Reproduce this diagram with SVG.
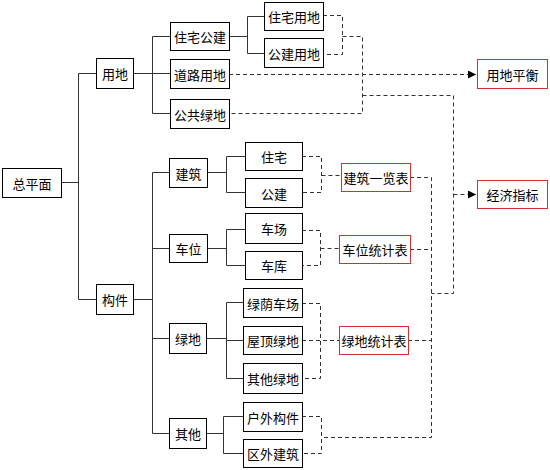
<svg xmlns="http://www.w3.org/2000/svg" width="550" height="470" viewBox="0 0 550 470">
<style>
.n rect{fill:#fff;stroke:#000;stroke-width:1}
.r rect{fill:#fff;stroke:#d03030;stroke-width:1}
text{font-family:"Noto Sans CJK SC","Liberation Sans",sans-serif;font-size:13px;fill:#000;text-anchor:middle;dominant-baseline:central}
.s{fill:none;stroke:#333;stroke-width:1}
.d{fill:none;stroke:#333;stroke-width:1;stroke-dasharray:4,3}
</style>
<defs>
<marker id="a" viewBox="0 0 10 10" refX="10" refY="5" markerWidth="8" markerHeight="8" markerUnits="userSpaceOnUse" orient="auto"><path d="M0,0L10,5L0,10z" fill="#000"/></marker>
</defs>
<g id="connectors">
<path class="s" d="M61.5,182.5H78.5M78.5,73.5V299.5M78.5,73.5H96M78.5,299.5H96"/>
<path class="s" d="M133,73.5H152.5M152.5,36.5V113.5M152.5,36.5H170M152.5,73.5H170M152.5,113.5H170"/>
<path class="s" d="M229,36.5H247.5M247.5,16.5V53.5M247.5,16.5H264M247.5,53.5H264"/>
<path class="s" d="M133,299.5H152.5M152.5,172.5V433.5M152.5,172.5H169M152.5,248.5H169M152.5,338.5H169M152.5,433.5H169"/>
<path class="s" d="M207,172.5H226.5M226.5,156.5V192.5M226.5,156.5H245M226.5,192.5H245"/>
<path class="s" d="M207,248.5H226.5M226.5,229.5V265.5M226.5,229.5H245M226.5,265.5H245"/>
<path class="s" d="M206,338.5H226.5M226.5,302.5V378.5M226.5,302.5H243M226.5,340.5H243M226.5,378.5H243"/>
<path class="s" d="M206,433.5H223.5M223.5,416.5V453.5M223.5,416.5H243M223.5,453.5H243"/>
<path class="d" d="M323,15.5H342.5V54.5H323M342.5,36.5H362.5V113.5H229M362.5,95.5H453.5V293.5H431.5"/>
<path class="d" d="M229,74.5H476" marker-end="url(#a)"/>
<path class="d" d="M453.5,194.5H476" marker-end="url(#a)"/>
<path class="d" d="M302,156.5H321.5V192.5H302M321.5,175.5H341M410,177.5H431.5V437.5H321.5"/>
<path class="d" d="M302,230.5H320.5V265.5H302M320.5,248.5H339M410,249.5H431.5"/>
<path class="d" d="M302,303.5H320.5V378.5H302M302,340.5H339M408,340.5H431.5"/>
<path class="d" d="M302,416.5H321.5V453.5H302"/>
</g>
<g id="n-zongpingmian" class="n"><rect x="2.5" y="168.5" width="59" height="29"/><text x="32" y="183">总平面</text></g>
<g id="n-yongdi" class="n"><rect x="96.5" y="58.5" width="37" height="30"/><text x="115" y="73.5">用地</text></g>
<g id="n-goujian" class="n"><rect x="96.5" y="284.5" width="37" height="30"/><text x="115" y="299.5">构件</text></g>
<g id="n-zhuzhaigongjian" class="n"><rect x="170.5" y="22.5" width="59" height="28"/><text x="200" y="36.5">住宅公建</text></g>
<g id="n-daoluyongdi" class="n"><rect x="170.5" y="59.5" width="59" height="29"/><text x="200" y="74">道路用地</text></g>
<g id="n-gonggonglvdi" class="n"><rect x="170.5" y="99.5" width="59" height="29"/><text x="200" y="114">公共绿地</text></g>
<g id="n-zhuzhaiyongdi" class="n"><rect x="264.5" y="2.5" width="59" height="28"/><text x="294" y="16.5">住宅用地</text></g>
<g id="n-gongjianyongdi" class="n"><rect x="264.5" y="38.5" width="59" height="29"/><text x="294" y="53">公建用地</text></g>
<g id="n-yongdipingheng" class="r"><rect x="477.5" y="59.5" width="70" height="29"/><text x="512.5" y="74">用地平衡</text></g>
<g id="n-jingjizhibiao" class="r"><rect x="477.5" y="180.5" width="70" height="28"/><text x="512.5" y="194.5">经济指标</text></g>
<g id="n-jianzhu" class="n"><rect x="169.5" y="158.5" width="38" height="29"/><text x="188.5" y="173">建筑</text></g>
<g id="n-chewei" class="n"><rect x="169.5" y="234.5" width="38" height="28"/><text x="188.5" y="248.5">车位</text></g>
<g id="n-lvdi" class="n"><rect x="169.5" y="323.5" width="37" height="30"/><text x="188" y="338.5">绿地</text></g>
<g id="n-qita" class="n"><rect x="169.5" y="418.5" width="37" height="30"/><text x="188" y="433.5">其他</text></g>
<g id="n-zhuzhai" class="n"><rect x="245.5" y="142.5" width="57" height="28"/><text x="274" y="156.5">住宅</text></g>
<g id="n-gongjian" class="n"><rect x="245.5" y="178.5" width="57" height="29"/><text x="274" y="193">公建</text></g>
<g id="n-chechang" class="n"><rect x="245.5" y="213.5" width="57" height="30"/><text x="274" y="228.5">车场</text></g>
<g id="n-cheku" class="n"><rect x="245.5" y="251.5" width="57" height="28"/><text x="274" y="265.5">车库</text></g>
<g id="n-lvyinchechang" class="n"><rect x="243.5" y="288.5" width="59" height="29"/><text x="273" y="303">绿荫车场</text></g>
<g id="n-wudinglvdi" class="n"><rect x="243.5" y="326.5" width="59" height="28"/><text x="273" y="340.5">屋顶绿地</text></g>
<g id="n-qitalvdi" class="n"><rect x="243.5" y="363.5" width="59" height="30"/><text x="273" y="378.5">其他绿地</text></g>
<g id="n-huwaigoujian" class="n"><rect x="243.5" y="402.5" width="59" height="29"/><text x="273" y="417">户外构件</text></g>
<g id="n-quwaijianzhu" class="n"><rect x="243.5" y="439.5" width="59" height="28"/><text x="273" y="453.5">区外建筑</text></g>
<g id="n-jianzhuyilanbiao" class="r"><rect x="341.5" y="163.5" width="69" height="28"/><text x="376" y="177.5">建筑一览表</text></g>
<g id="n-cheweitongjibiao" class="r"><rect x="339.5" y="235.5" width="71" height="28"/><text x="375" y="249.5">车位统计表</text></g>
<g id="n-lvditongjibiao" class="r"><rect x="339.5" y="326.5" width="69" height="28"/><text x="374" y="340.5">绿地统计表</text></g>
</svg>
